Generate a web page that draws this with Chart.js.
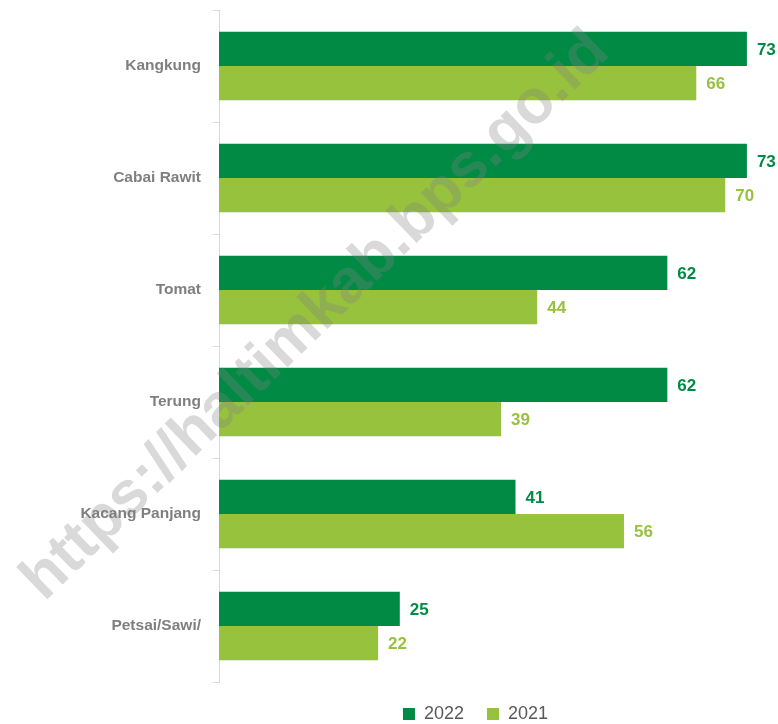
<!DOCTYPE html>
<html>
<head>
<meta charset="utf-8">
<script src="https://cdn.jsdelivr.net/npm/chart.js@4"></script>
<style>
  body { margin: 0; background: #fff; }
  #wrap { width: 778px; height: 724px; }
</style>
</head>
<body>
<div id="wrap"><canvas id="vegChart" width="778" height="724"></canvas></div>
<script>
const categories = ['Kangkung', 'Cabai Rawit', 'Tomat', 'Terung', 'Kacang Panjang', 'Petsai/Sawi/'];
const values2022 = [73, 73, 62, 62, 41, 25];
const values2021 = [66, 70, 44, 39, 56, 22];
const seriesNames = ['2022', '2021'];

const darkGreen = '#008a44';
const lightGreen = '#96c23d';

// value labels at the end of each bar
const barLabels = {
    id: 'barLabels',
    afterDatasetsDraw(chart) {
        const ctx = chart.ctx;
        ctx.save();
        ctx.font = 'bold 17px "Liberation Sans"';
        ctx.textBaseline = 'middle';
        ctx.textAlign = 'left';
        chart.data.datasets.forEach((ds, i) => {
            chart.getDatasetMeta(i).data.forEach((bar, j) => {
                ctx.fillStyle = ds.backgroundColor;
                ctx.fillText(ds.data[j], bar.x + 10, bar.y + 1);
            });
        });
        ctx.restore();
    }
};

// legend sits a bit right of the canvas centre in the original
const shiftLegend = {
    id: 'shiftLegend',
    afterLayout(chart) {
        chart.legend.left = 173;
    }
};

// diagonal watermark over the chart
const watermark = {
    id: 'watermark',
    afterDraw(chart) {
        const ctx = chart.ctx;
        ctx.save();
        ctx.translate(316, 316);
        ctx.rotate(-44 * Math.PI / 180);
        ctx.font = 'bold 62px "Liberation Sans"';
        ctx.textAlign = 'center';
        ctx.textBaseline = 'middle';
        ctx.fillStyle = 'rgba(128, 128, 128, 0.3)';
        ctx.fillText('https://haltimkab.bps.go.id', 0, 0);
        ctx.restore();
    }
};

new Chart(document.getElementById('vegChart'), {
    type: 'bar',
    data: {
        labels: categories,
        datasets: [
            { label: seriesNames[0], data: values2022, backgroundColor: darkGreen },
            { label: seriesNames[1], data: values2021, backgroundColor: lightGreen }
        ]
    },
    options: {
        indexAxis: 'y',
        responsive: false,
        animation: false,
        layout: { padding: { top: 10, right: 0, left: 0, bottom: -9 } },
        datasets: {
            bar: { categoryPercentage: 0.61, barPercentage: 1.0 }
        },
        plugins: {
            legend: {
                position: 'bottom',
                labels: {
                    boxWidth: 12,
                    boxHeight: 12,
                    color: '#595959',
                    font: { size: 18, family: 'Liberation Sans' },
                    padding: 23
                }
            },
            tooltip: { enabled: false }
        },
        scales: {
            x: {
                display: false,
                min: 0,
                max: 77.3
            },
            y: {
                afterFit: scale => {
                    scale.width = 219;
                    scale.paddingTop = 0;
                    scale.paddingBottom = 0;
                },
                grid: {
                    drawOnChartArea: false,
                    tickLength: 6,
                    color: '#d9d9d9'
                },
                border: { color: '#d9d9d9' },
                ticks: {
                    color: '#7f7f7f',
                    padding: 12,
                    font: { size: 15.5, weight: 'bold', family: 'Liberation Sans' }
                }
            }
        }
    },
    plugins: [barLabels, shiftLegend, watermark]
});
</script>
</body>
</html>
